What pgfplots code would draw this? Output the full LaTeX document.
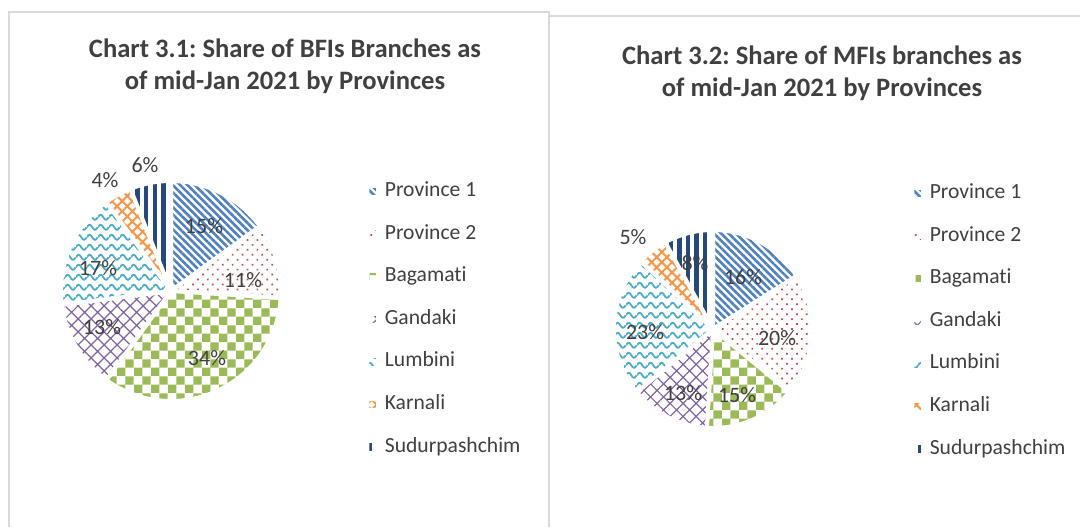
\documentclass[border=0pt]{standalone}
\usepackage{pgfplots}
\pgfplotsset{compat=1.18}
\usepackage{fontspec}
\setmainfont{Carlito}[Ligatures=NoCommon]
\usetikzlibrary{patterns,patterns.meta}
\frenchspacing

\definecolor{c1}{HTML}{4F81BD}
\definecolor{c2}{HTML}{C0504D}
\definecolor{c3}{HTML}{9BBB59}
\definecolor{c4}{HTML}{8064A2}
\definecolor{c5}{HTML}{4BACC6}
\definecolor{c6}{HTML}{F79646}
\definecolor{c7}{HTML}{24497A}
\definecolor{txt}{HTML}{404040}
\definecolor{framegray}{HTML}{D9D9D9}

\pgfdeclarepattern{
  name=checker, type=uncolored,
  bottom left={\pgfpoint{0pt}{0pt}},
  top right={\pgfpoint{8.4pt}{8.4pt}},
  tile size={\pgfpoint{8.4pt}{8.4pt}},
  code={
    \pgfpathrectangle{\pgfpointorigin}{\pgfpoint{4.2pt}{4.2pt}}
    \pgfpathrectangle{\pgfpoint{4.2pt}{4.2pt}}{\pgfpoint{4.2pt}{4.2pt}}
    \pgfusepath{fill}
  }
}
\pgfdeclarepattern{
  name=waves, type=uncolored,
  bottom left={\pgfpoint{0pt}{0pt}},
  top right={\pgfpoint{5.4pt}{4.9pt}},
  tile size={\pgfpoint{5.4pt}{4.9pt}},
  code={
    \pgfsetlinewidth{0.9pt}
    \pgfpathmoveto{\pgfpoint{0pt}{2.4pt}}
    \pgfpathcurveto{\pgfpoint{0.9pt}{4.1pt}}{\pgfpoint{1.8pt}{4.1pt}}{\pgfpoint{2.7pt}{2.4pt}}
    \pgfpathcurveto{\pgfpoint{3.6pt}{0.7pt}}{\pgfpoint{4.5pt}{0.7pt}}{\pgfpoint{5.4pt}{2.4pt}}
    \pgfusepath{stroke}
  }
}

\tikzset{
  p1/.style={pattern={Lines[angle=-45,distance=2.6pt,line width=1.3pt]}, pattern color=c1},
  p2/.style={pattern={Dots[angle=45,distance=3.5pt,radius=0.6pt]}, pattern color=c2},
  p3/.style={pattern=checker, pattern color=c3},
  p4/.style={pattern={Hatch[angle=45,distance=4.6pt,line width=0.6pt]}, pattern color=c4},
  p5/.style={pattern=waves, pattern color=c5},
  p6/.style={pattern={Hatch[angle=45,distance=3.6pt,line width=1pt]}, pattern color=c6},
  p7/.style={pattern={Lines[angle=90,distance=4.3pt,line width=2.2pt]}, pattern color=c7},
  lab/.style={font=\fontsize{11}{13}\selectfont, text=txt},
  ttl/.style={font=\bfseries\fontsize{13.3}{16}\selectfont, text=txt, align=center},
}

\pgfplotsset{pieaxis/.style={
  at={(0,0)}, anchor=south west, x=0.5pt, y=0.5pt, scale only axis,
  xmin=0, xmax=1080, ymin=0, ymax=527, y dir=reverse, hide axis, clip=false,
  legend image code/.code={\fill[##1, draw=none] (0pt,-1.6pt) rectangle (3.2pt,1.6pt);},
  legend cell align=left,
  legend style={draw=none, fill=none, inner sep=0pt, column sep=4.5pt, row sep=11.9pt,
    font=\fontsize{10.8}{13}\selectfont, text=txt,
    nodes={inner sep=0pt, text height=7.2pt, text depth=2.2pt}},
}}

% slice: centre x, centre y, radius, start angle, end angle (clockwise from 12 o'clock), style
\newcommand\slice[6]{%
  \addplot[#6, draw=white, line width=2pt, line join=round, forget plot,
    domain=#4:#5, samples=60, variable=\t]
    ({#1+#3*sin(\t)},{#2-#3*cos(\t)}) -- (axis cs:#1,#2) -- cycle;
}

\begin{document}
\begin{tikzpicture}
\path[use as bounding box] (0,0) rectangle (540pt,263.5pt);

% ---------- Chart 3.1 : BFIs (15, 11, 34, 13, 17, 4, 6 %)
\begin{axis}[pieaxis, legend style={at={(0.3417,0.6554)}, anchor=north west}]
  \draw[framegray, line width=1pt] (axis cs:9,527) -- (axis cs:9,12) -- (axis cs:549,12) -- (axis cs:549,527);
  \draw[framegray, line width=1pt] (axis cs:549,15.5) -- (axis cs:1080,15.5);
  \addlegendimage{p1}
  \addlegendimage{p2}
  \addlegendimage{p3}
  \addlegendimage{p4}
  \addlegendimage{p5}
  \addlegendimage{p6}
  \addlegendimage{p7}
  \slice{171}{291}{110}{0}{54}{p1}
  \slice{171}{291}{110}{54}{93.6}{p2}
  \slice{171}{291}{110}{93.6}{216}{p3}
  \slice{171}{291}{110}{216}{262.8}{p4}
  \slice{171}{291}{110}{262.8}{324}{p5}
  \slice{171}{291}{110}{324}{338.4}{p6}
  \slice{171}{291}{110}{338.4}{360}{p7}
  \node[lab] at (axis cs:204,226) {15\%};
  \node[lab] at (axis cs:243,280) {11\%};
  \node[lab] at (axis cs:207,358) {34\%};
  \node[lab] at (axis cs:102,327) {13\%};
  \node[lab] at (axis cs:98,268) {17\%};
  \node[lab] at (axis cs:105,180) {4\%};
  \node[lab] at (axis cs:145,165) {6\%};
  \node[ttl] at (axis cs:285,66) {Chart 3.1: Share of BFIs Branches as\\of mid-Jan 2021 by Provinces};
  \legend{Province 1, Province 2, Bagamati, Gandaki, Lumbini, Karnali, Sudurpashchim}
\end{axis}

% ---------- Chart 3.2 : MFIs (16, 20, 15, 13, 23, 5, 8 %)
\begin{axis}[pieaxis, legend style={at={(0.8463,0.6516)}, anchor=north west}]
  \addlegendimage{p1}
  \addlegendimage{p2}
  \addlegendimage{p3}
  \addlegendimage{p4}
  \addlegendimage{p5}
  \addlegendimage{p6}
  \addlegendimage{p7}
  \slice{713}{329}{99}{0}{57.6}{p1}
  \slice{713}{329}{99}{57.6}{129.6}{p2}
  \slice{713}{329}{99}{129.6}{183.6}{p3}
  \slice{713}{329}{99}{183.6}{230.4}{p4}
  \slice{713}{329}{99}{230.4}{313.2}{p5}
  \slice{713}{329}{99}{313.2}{331.2}{p6}
  \slice{713}{329}{99}{331.2}{360}{p7}
  \node[lab] at (axis cs:743,277) {16\%};
  \node[lab] at (axis cs:777,338) {20\%};
  \node[lab] at (axis cs:737,395) {15\%};
  \node[lab] at (axis cs:683,393) {13\%};
  \node[lab] at (axis cs:645,332) {23\%};
  \node[lab] at (axis cs:633,237) {5\%};
  \node[lab] at (axis cs:695,263) {8\%};
  \node[ttl] at (axis cs:822,73) {Chart 3.2: Share of MFIs branches as\\of mid-Jan 2021 by Provinces};
  \legend{Province 1, Province 2, Bagamati, Gandaki, Lumbini, Karnali, Sudurpashchim}
\end{axis}
\end{tikzpicture}
\end{document}
